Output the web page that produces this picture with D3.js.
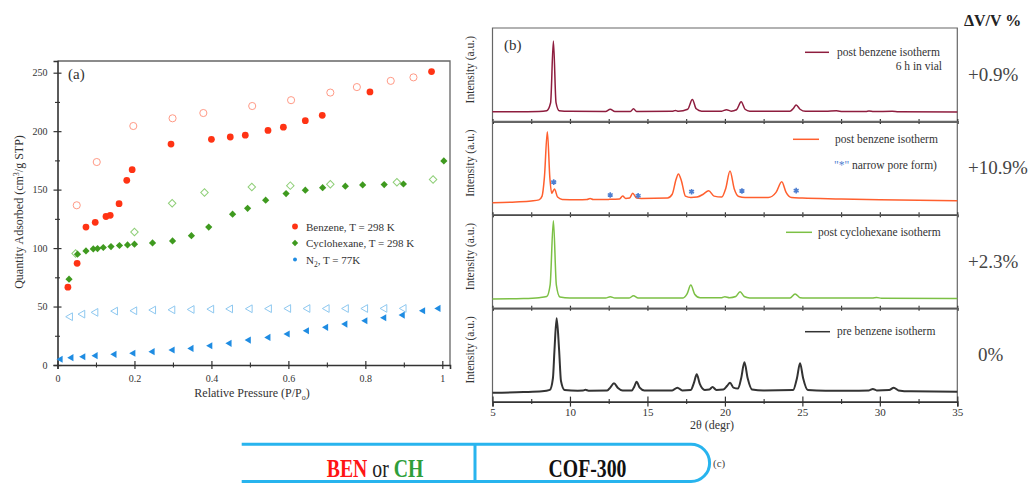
<!DOCTYPE html>
<html lang="en">
<head>
<meta charset="utf-8">
<script src="https://cdn.jsdelivr.net/npm/d3@7"></script>
<style>
  body { margin: 0; background: #fff; }
  svg { display: block; font-family: "Liberation Serif", "Times New Roman", serif; }
</style>
</head>
<body>
<svg id="fig" width="1032" height="483"></svg>
<script>
// ---------- panel (a): isotherms, [P/P0, quantity adsorbed]
const benzeneAds = [[0.027,66.6],[0.051,87],[0.074,118],[0.098,122],[0.126,127],[0.137,128],[0.16,138],[0.18,158],[0.194,167],[0.295,189],[0.40,193],[0.449,195],[0.488,196.6],[0.547,200.6],[0.587,203.4],[0.644,209],[0.688,213.5],[0.812,233.5],[0.972,251]];
const benzeneDes = [[0.05,136.6],[0.102,173.6],[0.197,204.4],[0.299,211],[0.379,215.5],[0.506,221.5],[0.607,226.5],[0.709,233],[0.778,237.7],[0.866,243],[0.925,246]];
const cyclohexaneAds = [[0.03,73.4],[0.052,94.8],[0.074,97.6],[0.093,99.3],[0.104,99.6],[0.119,100.5],[0.139,101.3],[0.161,102.2],[0.182,102.7],[0.2,103.3],[0.247,104.4],[0.299,106.1],[0.348,110.6],[0.393,118],[0.455,129],[0.494,134],[0.541,141],[0.594,146.6],[0.644,149.5],[0.689,151.7],[0.748,152.9],[0.793,154],[0.849,154.3],[0.899,154.8],[1.004,174.5]];
const cyclohexaneDes = [[0.047,95.4],[0.2,113.8],[0.298,138.3],[0.382,147.5],[0.505,152.3],[0.605,153.4],[0.709,154.6],[0.882,156.3],[0.976,158.6]];
const n2Ads = [[0.008,4.9],[0.036,6.3],[0.067,7.1],[0.099,8],[0.148,9.1],[0.197,10],[0.247,11.4],[0.299,12.8],[0.348,14.2],[0.397,16.5],[0.447,18.5],[0.497,21.3],[0.548,23.6],[0.598,26.5],[0.648,29.3],[0.698,32.2],[0.748,35],[0.8,37.8],[0.849,40.4],[0.897,42.7],[0.95,46.4],[0.99,48.4]];
const n2Des = [[0.033,41.3],[0.065,43.5],[0.099,45],[0.15,46.1],[0.2,46.4],[0.249,47],[0.299,47.2],[0.349,47.5],[0.4,47.8],[0.449,48],[0.5,48.1],[0.55,48.2],[0.6,48.3],[0.65,48.3],[0.7,48.3],[0.75,48.3],[0.8,48.3],[0.85,48.4],[0.9,48.4]];

const aTicksX = [0, 0.2, 0.4, 0.6, 0.8, 1];
const aMinorX = [0.1, 0.3, 0.5, 0.7, 0.9];
const aTicksY = [0, 50, 100, 150, 200, 250];
const aMinorY = [25, 75, 125, 175, 225];

// ---------- panel (b): XRD patterns, [2theta, intensity (a.u., 0-100 per strip)]
const xrdPostBenzene6h = [[5,10.2],[7,10.4],[8,10.6],[8.5,11.5],[8.75,20],[8.93,86],[9.1,20],[9.3,11.5],[10,10.8],[12.3,10.6],[12.6,13],[12.9,10.6],[13.9,10.6],[14.1,13.5],[14.3,10.6],[16.6,10.8],[16.8,11.8],[17,10.8],[17.6,13],[17.9,23.5],[18.15,13.5],[18.5,11],[19.8,11],[20.1,12.5],[20.4,11],[20.75,12.5],[21.05,21],[21.3,13],[21.6,11],[24.2,11],[24.4,13.5],[24.6,17.5],[24.85,13],[25.2,10.8],[26.5,10.8],[27.2,11.3],[27.6,10.6],[29.1,10.6],[29.3,11.2],[29.6,10.5],[30.8,10.9],[31.2,10.4],[35,10]];
const xrdPostBenzene = [[5,13],[6.5,13.8],[7.5,14.8],[8,16],[8.2,20],[8.35,40],[8.54,89],[8.7,40],[8.82,23],[9,27.6],[9.2,19],[9.5,16.5],[10.5,16],[11.1,16.3],[11.3,17.5],[11.5,16.3],[12.5,16.5],[13.2,17],[13.4,20],[13.6,17.5],[13.85,18],[14.05,23],[14.3,18],[14.6,17.5],[16.3,18],[16.6,22],[16.85,38],[17,43.7],[17.2,36],[17.45,20],[17.8,18.5],[18.2,19],[18.6,22],[18.95,25.8],[19.3,20],[19.8,19],[20.05,28],[20.33,46.9],[20.6,28],[20.9,19.5],[21.3,18.5],[22.8,18.5],[23.3,24],[23.67,35.4],[23.95,24],[24.3,18.5],[25,18],[27.5,17],[30,16],[35,15]];
const xrdPostCyclohexane = [[5,9.9],[7,10.3],[8,11.2],[8.5,12.5],[8.72,25],[8.93,93.6],[9.12,25],[9.35,12],[10,10.8],[12.3,10.8],[12.6,12.3],[12.9,10.8],[13.8,10.8],[14.1,13.2],[14.4,10.9],[17.3,11],[17.55,15],[17.8,24.8],[18.05,15],[18.4,11.2],[19.8,11.3],[20,12.3],[20.3,11.2],[20.7,12.5],[20.98,17.7],[21.25,12.5],[21.6,11],[24.2,11],[24.53,15.2],[24.85,11.3],[25.2,10.8],[29.5,10.9],[29.8,11.4],[30.1,10.7],[35,10.5]];
const xrdPreBenzene = [[5,9.5],[7,10.2],[8.2,11],[8.7,12.5],[8.9,25],[9,55],[9.14,89.2],[9.3,55],[9.42,22],[9.65,12.5],[10.5,11.7],[10.85,11.8],[11,12.6],[11.2,11.7],[12.4,11.8],[12.6,15],[12.84,19.6],[13.1,14.5],[13.4,11.8],[14,12],[14.15,16],[14.3,21.3],[14.5,15],[14.8,12],[16.6,12],[16.93,14.9],[17.25,12],[17.8,12.5],[18,20],[18.18,29.2],[18.38,19],[18.7,12.5],[19,13],[19.2,15.6],[19.45,12.5],[19.9,13],[20.15,17],[20.33,20.2],[20.55,15],[20.85,14],[21.05,25],[21.26,42],[21.47,25],[21.75,13],[22.5,12],[24.4,12.3],[24.65,25],[24.85,41],[25.05,25],[25.35,12.3],[26.5,11.5],[28,11.5],[29.3,12],[29.55,13.5],[29.8,12],[30.6,12.3],[30.9,14.9],[31.2,12],[32,11],[35,10.6]];
// narrow pore form reflections marked with stars on the post benzene strip
const narrowPoreStars = [[8.95,35],[12.6,21.2],[14.4,20.4],[17.85,24.7],[21.1,25.5],[24.6,25.8]];

const bTicksX = [5, 10, 15, 20, 25, 30, 35];
const bMinorX = [7.5, 12.5, 17.5, 22.5, 27.5, 32.5];

const stripNames = ["post benzene isotherm", "post benzene isotherm", "post cyclohexane isotherm", "pre benzene isotherm"];
const stripColors = ["#8e1d3e", "#ff5f2e", "#7cc045", "#333333"];
const deltaLabels = ["+0.9%", "+10.9%", "+2.3%", "0%"];

const svg = d3.select("#fig");

// ================= (a)
const xA = d3.scaleLinear().domain([0, 1.02]).range([57.5, 450]);
const yA = d3.scaleLinear().domain([0, 260]).range([365, 61]);
const gA = svg.append("g");

gA.append("path")
  .attr("d", `M${xA(0)},${yA(260)}H${xA(1.02)}V${yA(0)}`)
  .attr("fill", "none").attr("stroke", "#666").attr("stroke-width", 1.3);

function styleAxis(g) {
  g.attr("font-family", null).attr("font-size", null);
  g.selectAll("text").attr("font-size", 10).attr("fill", "#333");
  g.select(".domain").attr("stroke", "#333").attr("stroke-width", 1.6);
  g.selectAll(".tick line").attr("stroke", "#333").attr("stroke-width", 1.2);
}

const axXA = gA.append("g").attr("transform", `translate(0,${yA(0)})`)
  .call(d3.axisBottom(xA).tickValues(aTicksX).tickSizeOuter(0).tickSize(4).tickPadding(6).tickFormat(d3.format("~g")));
styleAxis(axXA);
axXA.selectAll(".tick line").attr("y1", -4).attr("y2", 4);
const axXAm = gA.append("g").attr("transform", `translate(0,${yA(0)})`)
  .call(d3.axisBottom(xA).tickValues(aMinorX).tickSize(2.5).tickFormat(""));
axXAm.select(".domain").remove();
axXAm.selectAll(".tick line").attr("y1", -2.5).attr("stroke", "#333").attr("stroke-width", 1.1);

const axYA = gA.append("g").attr("transform", `translate(${xA(0)},0)`)
  .call(d3.axisLeft(yA).tickValues(aTicksY).tickSizeOuter(0).tickSize(4).tickPadding(6));
styleAxis(axYA);
axYA.selectAll(".tick line").attr("x1", 4);
const axYAm = gA.append("g").attr("transform", `translate(${xA(0)},0)`)
  .call(d3.axisLeft(yA).tickValues(aMinorY).tickSize(2.5).tickFormat(""));
axYAm.select(".domain").remove();
axYAm.selectAll(".tick line").attr("x1", 2.5).attr("stroke", "#333").attr("stroke-width", 1.1);

// axis titles
const xTitle = gA.append("text").attr("x", 252).attr("y", 397).attr("text-anchor", "middle")
  .attr("font-size", 12).attr("fill", "#333");
xTitle.append("tspan").text("Relative Pressure (P/P");
xTitle.append("tspan").attr("font-size", 8).attr("dy", 3).text("o");
xTitle.append("tspan").attr("dy", -3).text(")");

const yTitle = gA.append("text").attr("transform", "translate(23,212) rotate(-90)")
  .attr("text-anchor", "middle").attr("font-size", 12).attr("fill", "#333");
yTitle.append("tspan").text("Quantity Adsorbed (cm");
yTitle.append("tspan").attr("font-size", 8).attr("dy", -4).text("3");
yTitle.append("tspan").attr("dy", 4).text("/g STP)");

gA.append("text").attr("x", 68).attr("y", 79).attr("font-size", 15).attr("fill", "#333").text("(a)");

// markers
const marks = gA.append("g");
function plotSeries(data, shape, size, rot, fill, stroke) {
  marks.selectAll(null).data(data).enter().append("path")
    .attr("d", d3.symbol().type(shape).size(size))
    .attr("transform", d => `translate(${xA(d[0])},${yA(d[1])}) rotate(${rot})`)
    .attr("fill", fill).attr("stroke", stroke).attr("stroke-width", stroke === "none" ? 0 : 1);
}
plotSeries(n2Des, d3.symbolTriangle, 26, -90, "none", "#8ec8f0");
plotSeries(n2Ads, d3.symbolTriangle, 22, -90, "#1f8ce2", "none");
plotSeries(cyclohexaneDes, d3.symbolSquare, 28, 45, "none", "#8fcf78");
plotSeries(cyclohexaneAds, d3.symbolSquare, 26, 45, "#3f9a1f", "none");
plotSeries(benzeneDes, d3.symbolCircle, 40, 0, "none", "#ff9a86");
plotSeries(benzeneAds, d3.symbolCircle, 36, 0, "#ff3314", "none");

// legend
const legA = gA.append("g").attr("font-size", 11).attr("fill", "#333");
const legRows = [
  { y: 226.5, shape: d3.symbolCircle, size: 26, rot: 0, color: "#ff3314", label: "Benzene, T = 298 K" },
  { y: 243, shape: d3.symbolSquare, size: 20, rot: 45, color: "#3f9a1f", label: "Cyclohexane, T = 298 K" },
  { y: 259.5, shape: d3.symbolCircle, size: 12, rot: 0, color: "#1f8ce2", label: null }
];
legRows.forEach(r => {
  legA.append("path").attr("d", d3.symbol().type(r.shape).size(r.size))
    .attr("transform", `translate(295,${r.y}) rotate(${r.rot})`).attr("fill", r.color);
  const t = legA.append("text").attr("x", 306).attr("y", r.y + 4);
  if (r.label) t.text(r.label);
  else {
    t.append("tspan").text("N");
    t.append("tspan").attr("font-size", 7.5).attr("dy", 3).text("2");
    t.append("tspan").attr("dy", -3).text(", T = 77K");
  }
});

// ================= (b)
const xB = d3.scaleLinear().domain([5, 35]).range([492.5, 957.3]);
const panelTop = 28, panelH = 93.4;
const gB = svg.append("g");
const strips = [xrdPostBenzene6h, xrdPostBenzene, xrdPostCyclohexane, xrdPreBenzene];

strips.forEach((data, i) => {
  const top = panelTop + i * panelH, bottom = top + panelH;
  const yB = d3.scaleLinear().domain([0, 100]).range([bottom, top]);
  const g = gB.append("g");

  // frame sides
  g.append("path")
    .attr("d", `M${xB(5)},${bottom}V${top}H${xB(35)}V${bottom}`)
    .attr("fill", "none").attr("stroke", "#666").attr("stroke-width", 1.2);

  const last = i === strips.length - 1;
  const ax = g.append("g").attr("transform", `translate(0,${bottom})`)
    .call(d3.axisBottom(xB).tickValues(bTicksX).tickSizeOuter(0).tickSize(last ? 5 : 2.5).tickPadding(2)
      .tickFormat(last ? d3.format("d") : ""));
  styleAxis(ax);
  ax.selectAll("text").attr("font-size", 11);
  ax.selectAll(".tick line").attr("y1", last ? -5 : -2.5);
  const axm = g.append("g").attr("transform", `translate(0,${bottom})`)
    .call(d3.axisBottom(xB).tickValues(bMinorX).tickSize(2.5).tickFormat(""));
  axm.select(".domain").remove();
  axm.selectAll(".tick line").attr("y1", -2.5).attr("stroke", "#333").attr("stroke-width", 1.1);

  g.append("path").datum(data)
    .attr("d", d3.line().x(d => xB(d[0])).y(d => yB(d[1])).curve(d3.curveMonotoneX))
    .attr("fill", "none").attr("stroke", stripColors[i])
    .attr("stroke-width", last ? 2 : 1.5).attr("stroke-linejoin", "round");

  if (i === 1) {
    g.selectAll(null).data(narrowPoreStars).enter().append("path")
      .attr("d", d3.symbol().type(d3.symbolAsterisk).size(22))
      .attr("transform", d => `translate(${xB(d[0])},${yB(d[1])})`)
      .attr("fill", "none").attr("stroke", "#4f7fd0").attr("stroke-width", 1.6);
  }

  g.append("text").attr("transform", `translate(474,${top + panelH / 2 - 5}) rotate(-90)`)
    .attr("text-anchor", "middle").attr("font-size", 11.5).attr("fill", "#333").text("Intensity (a.u.)");

  g.append("text").attr("x", 968 + (deltaLabels[i] === "0%" ? 10 : 0)).attr("y", top + 53)
    .attr("font-size", 19).attr("fill", "#444").text(deltaLabels[i]);
});

// strip legends
const legB = [
  { y: 52.3, x1: 805, x2: 829, tx: 837 },
  { y: 139.3, x1: 793, x2: 819, tx: 835 },
  { y: 232.3, x1: 786, x2: 812, tx: 818 },
  { y: 331.7, x1: 805, x2: 830, tx: 837 }
];
legB.forEach((l, i) => {
  gB.append("line").attr("x1", l.x1).attr("x2", l.x2).attr("y1", l.y).attr("y2", l.y)
    .attr("stroke", stripColors[i]).attr("stroke-width", 1.5);
  gB.append("text").attr("x", l.tx).attr("y", l.y + 3.5).attr("font-size", 11.5).attr("fill", "#333")
    .text(stripNames[i]);
});
gB.append("text").attr("x", 942).attr("y", 69.5).attr("text-anchor", "end")
  .attr("font-size", 11.5).attr("fill", "#333").text("6 h in vial");
const np = gB.append("text").attr("x", 834).attr("y", 169).attr("font-size", 11.5).attr("fill", "#333");
np.append("tspan").attr("fill", "#4f7fd0").text("\"*\"");
np.append("tspan").text(" narrow pore form)");

gB.append("text").attr("x", 504).attr("y", 50).attr("font-size", 15).attr("fill", "#333").text("(b)");
gB.append("text").attr("x", 712).attr("y", 428.5).attr("text-anchor", "middle")
  .attr("font-size", 12).attr("fill", "#333").text("2θ (degr)");
gB.append("text").attr("x", 964).attr("y", 26).attr("font-size", 16).attr("font-weight", "bold")
  .attr("fill", "#222").text("ΔV/V %");

// ================= (c) schematic strip
const gC = svg.append("g");
const cTop = 444.3, cBot = 481.5, cR = (cBot - cTop) / 2;
const p = d3.path();
p.moveTo(241.7, cTop);
p.lineTo(691, cTop);
p.arc(691, cTop + cR, cR, -Math.PI / 2, Math.PI / 2);
p.lineTo(241.7, cBot);
p.moveTo(475, cTop);
p.lineTo(475, cBot);
gC.append("path").attr("d", p.toString()).attr("fill", "none")
  .attr("stroke", "#28b4ee").attr("stroke-width", 3);

const t1 = gC.append("text").attr("transform", "translate(375,476.5) scale(0.76,1)")
  .attr("text-anchor", "middle").attr("font-size", 26);
t1.append("tspan").attr("font-weight", "bold").attr("fill", "#ff1414").text("BEN");
t1.append("tspan").attr("fill", "#222").text(" or ");
t1.append("tspan").attr("font-weight", "bold").attr("fill", "#2f9e3a").text("CH");
gC.append("text").attr("transform", "translate(587.5,476.5) scale(0.76,1)")
  .attr("text-anchor", "middle").attr("font-size", 26).attr("font-weight", "bold")
  .attr("fill", "#111").text("COF-300");
gC.append("text").attr("x", 713).attr("y", 467).attr("font-size", 11).attr("fill", "#444").text("(c)");
</script>
</body>
</html>
